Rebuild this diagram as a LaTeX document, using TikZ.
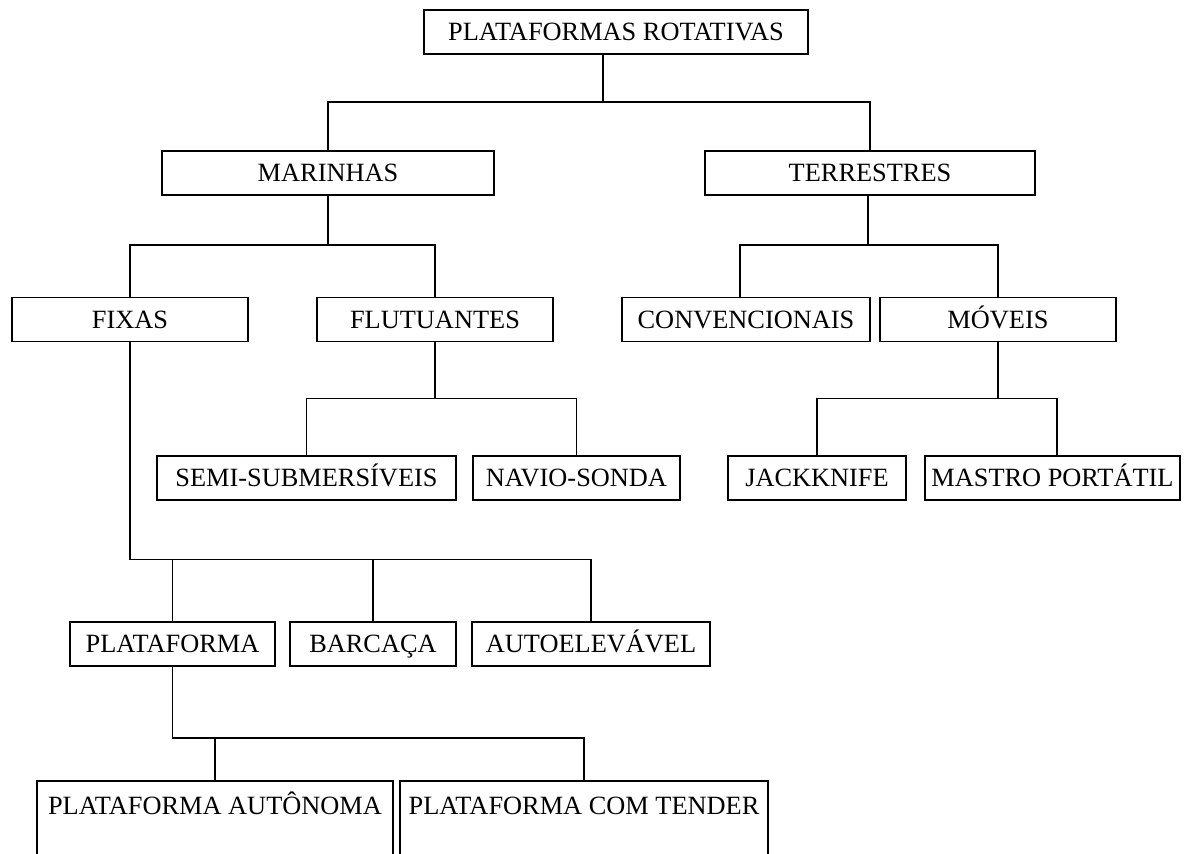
\documentclass[tikz,border=0pt]{standalone}
\usepackage{fontspec}
\setmainfont{Liberation Serif}
\usetikzlibrary{positioning}

\begin{document}
\begin{tikzpicture}[x=0.02cm, y=-0.02cm,
  box/.style={draw, line width=1.1pt, minimum width=#1, minimum height=0.88cm, inner sep=0pt,
    text height=0.35cm, text depth=0pt, font=\fontsize{15}{18}\selectfont},
  cutbox/.style={box=#1, anchor=north, minimum height=0pt, text height=0.67cm, text depth=1cm},
  link/.style={line width=1.05pt}
]
\useasboundingbox (0,0) rectangle (1191,853);
\clip (0,0) rectangle (1191,853);

% level 0 and 1
\node[box=7.68cm] (root) at (616,32) {PLATAFORMAS ROTATIVAS};
\node[box=6.64cm] (mar) at (328,173) {MARINHAS};
\node[box=6.60cm] (ter) at (870,173) {TERRESTRES};

% level 2
\node[box=4.72cm] (fix) at (130,319.5) {FIXAS};
\node[box=4.72cm] (flu) at (435,319.5) {FLUTUANTES};
\node[box=4.96cm] (conv) at (746,319.5) {CONVENCIONAIS};
\node[box=4.72cm] (mov) at (998,319.5) {MÓVEIS};

% level 3
\node[box=5.98cm] (semi) at (306.5,478) {SEMI-SUBMERSÍVEIS};
\node[box=4.14cm] (navio) at (576.5,478) {NAVIO-SONDA};
\node[box=3.56cm] (jack) at (817,478) {JACKKNIFE};
\node[box=5.10cm] (mastro) at (1052.5,478) {MASTRO PORTÁTIL};

% fixas
\node[box=4.10cm] (plat) at (172.5,644) {PLATAFORMA};
\node[box=3.32cm] (barc) at (373,644) {BARCAÇA};
\node[box=4.76cm] (auto) at (591,644) {AUTOELEVÁVEL};

% plataforma
\node[cutbox=7.12cm] (auton) at (215,780) {PLATAFORMA AUTÔNOMA};
\node[cutbox=7.36cm] (tender) at (584,780) {PLATAFORMA COM TENDER};

% connectors
\draw[link] ([xshift=-0.26cm]root.south) -- ++(0,47) -| (mar.north);
\draw[link] ([xshift=-0.26cm]root.south) ++(0,47) -| (ter.north);

\draw[link] (mar.south) -- ++(0,49) -| (fix.north);
\draw[link] (mar.south) ++(0,49) -| (flu.north);
\draw[link] ([xshift=-0.04cm]ter.south) -- ++(0,49) -| ([xshift=-0.12cm]conv.north);
\draw[link] ([xshift=-0.04cm]ter.south) ++(0,49) -| (mov.north);

\draw[link, line width=1.5pt] (flu.south) -- ++(0,56);
\draw[link] (flu.south) ++(0,56) -| (semi.north);
\draw[link] (flu.south) ++(0,56) -| (navio.north);
\draw[link] (mov.south) -- ++(0,56) -| (jack.north);
\draw[link] (mov.south) ++(0,56) -| ([xshift=0.09cm]mastro.north);

\draw[link] (fix.south) -- ++(0,217) -| (auto.north);
\draw[link] (fix.south) ++(0,217) -| (plat.north);
\draw[link] (fix.south) ++(0,217) -| (barc.north);

\draw[link] (plat.south) -- ++(0,71) -| (tender.north);
\draw[link] (plat.south) ++(0,71) -| (auton.north);

\end{tikzpicture}
\end{document}
